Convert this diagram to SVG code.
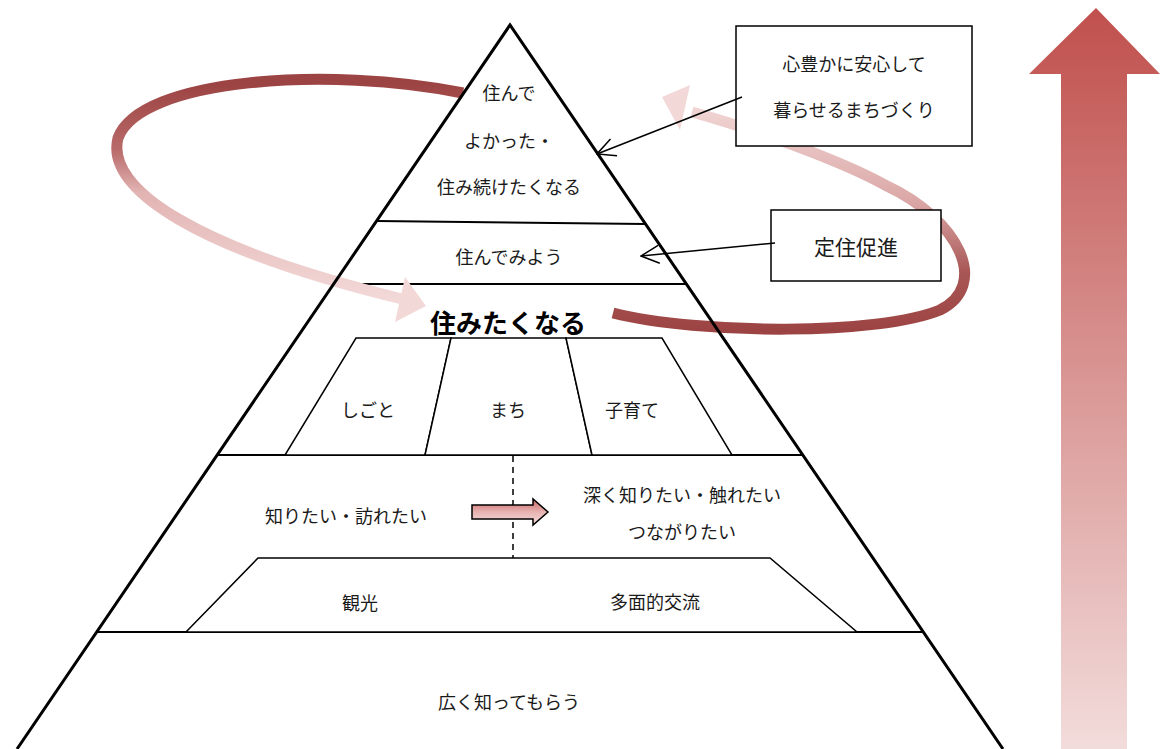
<svg xmlns="http://www.w3.org/2000/svg" width="1162" height="749" viewBox="0 0 1162 749">
<defs>
<linearGradient id="gBig" x1="0" y1="0" x2="0" y2="1">
<stop offset="0" stop-color="#C0504D"/>
<stop offset="1" stop-color="#F2DCDB"/>
</linearGradient>
<linearGradient id="gLeft" gradientUnits="userSpaceOnUse" x1="0" y1="85" x2="0" y2="300">
<stop offset="0" stop-color="#9C4443"/>
<stop offset="0.3" stop-color="#B86A69"/>
<stop offset="0.5" stop-color="#E2B4B3"/>
<stop offset="1" stop-color="#F2D9D8"/>
</linearGradient>
<linearGradient id="gRight" gradientUnits="userSpaceOnUse" x1="0" y1="330" x2="0" y2="100">
<stop offset="0" stop-color="#9C4443"/>
<stop offset="0.25" stop-color="#A85655"/>
<stop offset="0.55" stop-color="#DAA6A5"/>
<stop offset="1" stop-color="#F2D9D8"/>
</linearGradient>
<linearGradient id="gSmall" x1="0" y1="0" x2="0" y2="1">
<stop offset="0" stop-color="#C96565"/>
<stop offset="0.5" stop-color="#E7B3B2"/>
<stop offset="1" stop-color="#F4DEDD"/>
</linearGradient>
<marker id="open" viewBox="0 0 20 20" refX="19" refY="10" markerWidth="20" markerHeight="20" markerUnits="userSpaceOnUse" orient="auto">
<path d="M1,1 L19,10 L1,19" fill="none" stroke="#000" stroke-width="1.5"/>
</marker>
</defs>
<style>
text{font-family:"Noto Sans CJK JP","Noto Sans",sans-serif;font-size:18px;fill:#1a1a1a;text-anchor:middle;dominant-baseline:central}
.ln{stroke:#000;stroke-width:2;fill:none}
.tr{stroke:#000;stroke-width:1.5;fill:#fff}
.box{stroke:#000;stroke-width:1.5;fill:#fff}
.con{stroke:#000;stroke-width:1.5;fill:none;marker-end:url(#open)}
</style>
<rect width="1162" height="749" fill="#fff"/>

<g id="big-arrow">
<polygon points="1096,8 1160,74 1127,74 1127,749 1061,749 1061,74 1029,74" fill="url(#gBig)"/>
</g>

<g id="levels">
<line class="ln" x1="377" y1="221" x2="645" y2="224"/>
<line class="ln" x1="334" y1="284" x2="686" y2="284"/>
<line class="ln" x1="218" y1="455" x2="802" y2="455"/>
<line class="ln" x1="98" y1="632" x2="922" y2="632"/>
<line x1="513" y1="456" x2="513" y2="631" stroke="#000" stroke-width="1.5" stroke-dasharray="6,5"/>
</g>

<g id="node-top">
<text x="509" y="92">住んで</text>
<text x="509" y="140">よかった・</text>
<text x="509" y="186">住み続けたくなる</text>
</g>
<g id="node-try">
<text x="509" y="256">住んでみよう</text>
</g>
<g id="node-want">
<text x="508" y="321" style="font-size:26px;font-weight:bold;fill:#000">住みたくなる</text>
</g>
<g id="node-work">
<polygon class="tr" points="356,338 451,338 425,455 285,455"/>
<text x="368" y="409">しごと</text>
</g>
<g id="node-town">
<polygon class="tr" points="451,338 566,338 592,455 425,455"/>
<text x="508" y="409">まち</text>
</g>
<g id="node-child">
<polygon class="tr" points="566,338 662,338 732,455 592,455"/>
<text x="632" y="409">子育て</text>
</g>
<g id="node-know">
<text x="346" y="515">知りたい・訪れたい</text>
</g>
<g id="node-deep">
<text x="682" y="494">深く知りたい・触れたい</text>
<text x="682" y="531">つながりたい</text>
</g>
<g id="node-small-arrow">
<polygon points="472,505 533,505 533,499 548,512 533,525 533,519 472,519" fill="url(#gSmall)" stroke="#000" stroke-width="1.5"/>
</g>
<g id="node-tourism">
<polygon class="tr" points="258,558 770,558 857,632 186,632"/>
<text x="360" y="602">観光</text>
<text x="655" y="601">多面的交流</text>
</g>
<g id="node-wide">
<text x="509" y="701">広く知ってもらう</text>
</g>

<g id="cycle">
<path d="M463,93 C330,66 140,78 118,138 C105,190 200,250 402,299" fill="none" stroke="url(#gLeft)" stroke-width="11"/>
<polygon points="426,306 405,277 395,322" fill="#F2D9D8"/>
<path d="M613,313 C700,335 880,335 940,310 C990,285 960,220 885,185 C840,160 750,128 692,112" fill="none" stroke="url(#gRight)" stroke-width="11"/>
<polygon points="662,97 690,85 680,130" fill="#F2D9D8"/>
</g>

<g id="pyramid">
<polyline points="17,749 510,25 1003,749" fill="none" stroke="#000" stroke-width="3"/>
</g>

<g id="node-goal">
<rect class="box" x="736" y="26" width="236" height="120"/>
<text x="854" y="63">心豊かに安心して</text>
<text x="854" y="109">暮らせるまちづくり</text>
</g>
<g id="node-settle">
<rect class="box" x="771" y="210" width="170" height="71"/>
<text x="856" y="246" style="font-size:21px">定住促進</text>
</g>

<g id="connectors">
<line class="con" x1="742" y1="97" x2="597" y2="154"/>
<line class="con" x1="775" y1="243" x2="641" y2="256"/>
</g>
</svg>
